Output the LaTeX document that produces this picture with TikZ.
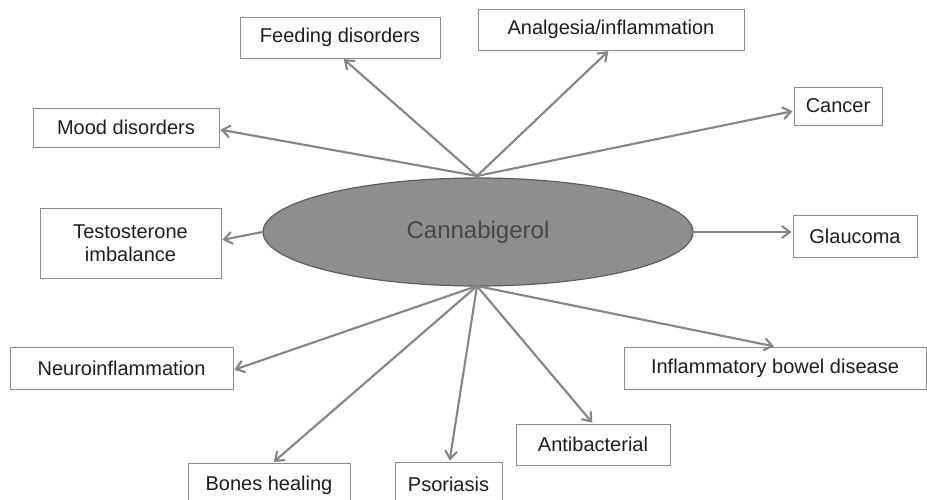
\documentclass[tikz,border=0pt]{standalone}
\usepackage{fontspec}
\setmainfont{Liberation Sans}
\usetikzlibrary{arrows.meta,shapes.geometric}
\definecolor{linegray}{HTML}{858585}
\definecolor{boxgray}{HTML}{8C8C8C}
\definecolor{txt}{HTML}{1E1E1E}
\definecolor{ellfill}{HTML}{8E8E8E}
\definecolor{elldraw}{HTML}{5E5E5E}
\tikzset{
  lbox/.style={draw=boxgray, line width=0.9pt, rectangle, inner sep=0pt,
    text=txt, font=\fontsize{20}{23}\selectfont, align=center},
  conn/.style={draw=linegray, line width=2.1pt, -{Straight Barb[length=8pt,width=12pt]}, shorten >=1pt},
}
\begin{document}
\begin{tikzpicture}[x=1pt,y=-1pt]
\useasboundingbox (0,0) rectangle (927,499);
\fill[white] (0,0) rectangle (927,499);
\begin{scope}
\clip (0,0) rectangle (927,499);
\node[ellipse, fill=ellfill, draw=elldraw, line width=1.2pt, minimum width=430pt, minimum height=108pt, inner sep=0pt,
  text=black!72, font=\fontsize{24}{28}\selectfont] (cb) at (478,232) {Cannabigerol};
\coordinate (ht) at (477,176);
\coordinate (hb) at (477,286);

\node[lbox, minimum width=200pt, minimum height=41pt] (feed) at (340,37.5) {Feeding disorders};
\node[lbox, minimum width=266pt, minimum height=41pt] (analg) at (611,29.5) {Analgesia/inflammation};
\node[lbox, minimum width=186pt, minimum height=39pt] (mood) at (126,127.5) {Mood disorders};
\node[lbox, minimum width=88pt, minimum height=38pt] (cancer) at (838,106) {Cancer};
\node[lbox, minimum width=181pt, minimum height=70pt] (testo) at (130.5,243) {Testosterone\\imbalance};
\node[lbox, minimum width=124pt, minimum height=42pt] (glauc) at (855,236) {Glaucoma};
\node[lbox, minimum width=223pt, minimum height=42pt] (neuro) at (121.5,368) {Neuroinflammation};
\node[lbox, minimum width=302pt, minimum height=42pt] (ibd) at (775,368) {Inflammatory bowel disease};
\node[lbox, minimum width=154pt, minimum height=41pt] (antib) at (593,444.5) {Antibacterial};
\node[lbox, minimum width=162pt, minimum height=44pt] (bones) at (269,485) {Bones healing};
\node[lbox, minimum width=107pt, minimum height=44pt] (psor) at (448.5,484) {Psoriasis};

\draw[conn] (ht) -- ([xshift=3pt]feed.south);
\draw[conn] (ht) -- ([xshift=-2pt]analg.south);
\draw[conn] (ht) -- ([yshift=-2pt]mood.east);
\draw[conn] (ht) -- ([yshift=-5pt]cancer.west);
\draw[conn] (cb.west) -- ([yshift=3pt]testo.east);
\draw[conn] (cb.east) -- ([yshift=4pt]glauc.west);
\draw[conn] (hb) -- ([yshift=-2pt]neuro.east);
\draw[conn] (hb) -- ([xshift=4pt]bones.north);
\draw[conn] (hb) -- ([xshift=1pt]psor.north);
\draw[conn] (hb) -- (antib.north);
\draw[conn] (hb) -- (ibd.north);
\end{scope}
\end{tikzpicture}
\end{document}
